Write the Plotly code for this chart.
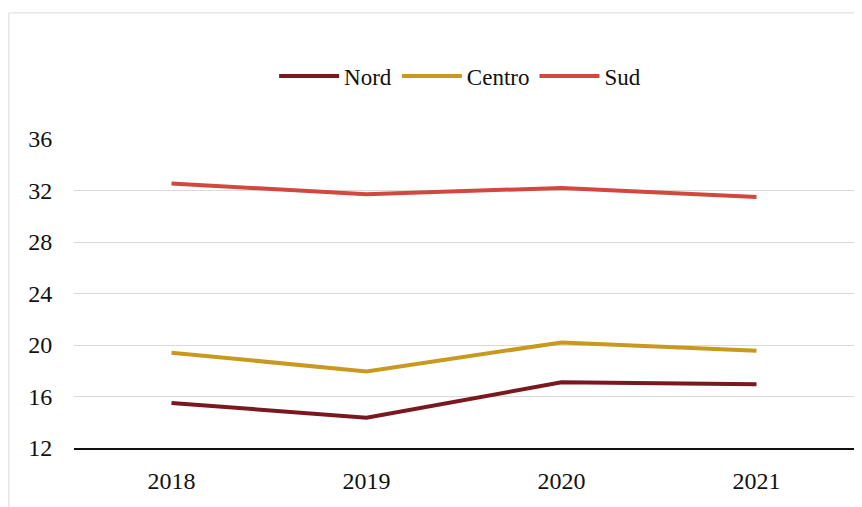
import plotly.graph_objects as go

years = ["2018", "2019", "2020", "2021"]
nord = [15.5, 14.35, 17.1, 16.95]
centro = [19.4, 17.95, 20.2, 19.55]
sud = [32.55, 31.7, 32.2, 31.5]
y_ticks = [12, 16, 20, 24, 28, 32, 36]

series = [("Nord", nord, "#7A1820"), ("Centro", centro, "#C9991F"), ("Sud", sud, "#D2473E")]

fig = go.Figure()
for name, vals, col in series:
    fig.add_trace(go.Scatter(x=years, y=vals, name=name, mode="lines",
                             line=dict(color=col, width=4)))

font_family = "Liberation Serif"
fig.update_layout(
    width=854, height=499,
    margin=dict(l=66, r=8, t=131, b=59, autoexpand=False),
    paper_bgcolor="white", plot_bgcolor="white",
    font=dict(family=font_family, size=24, color="#111111"),
    showlegend=True,
    legend=dict(orientation="h", x=0.495, y=1.204, xanchor="center", yanchor="middle",
                font=dict(family=font_family, size=23, color="#111111"),
                itemwidth=60, tracegroupgap=0, bgcolor="rgba(0,0,0,0)"),
    xaxis=dict(type="category", range=[-0.5, 3.5], showgrid=False, showline=True,
               linecolor="#111111", linewidth=1.5, ticks="outside", ticklen=10,
               tickcolor="rgba(0,0,0,0)", zeroline=False),
    yaxis=dict(range=[12, 36], tickvals=y_ticks, showgrid=True, gridcolor="#d9d9d9",
               gridwidth=1, showline=False, zeroline=False, ticks="outside", ticklen=16,
               tickcolor="rgba(0,0,0,0)"),
)
fig.add_shape(type="rect", xref="paper", yref="paper", x0=-0.0835, x1=1.03, y0=-0.25, y1=1.408,
              line=dict(color="#d9d9d9", width=1), fillcolor="rgba(0,0,0,0)", layer="below")
fig.write_html("out.html")
